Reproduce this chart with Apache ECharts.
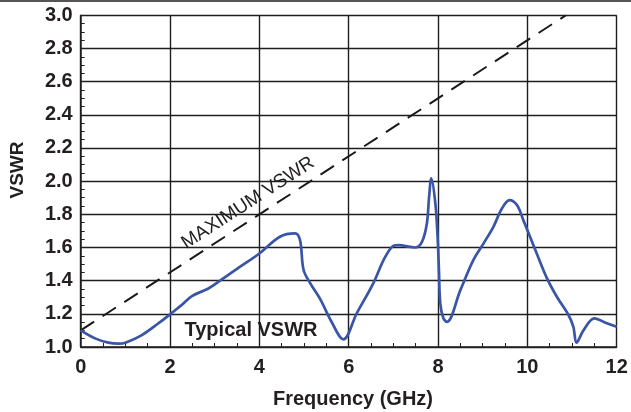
<!DOCTYPE html>
<html>
<head>
<meta charset="utf-8">
<script src="https://cdn.jsdelivr.net/npm/echarts@6/dist/echarts.min.js"></script>
<style>
html,body{margin:0;padding:0;background:#fff;}
#c{width:631px;height:412px;}
</style>
</head>
<body>
<div id="c"></div>
<script>
var freq = [0, 0.32, 0.62, 0.85, 1.0, 1.37, 1.74, 2.0, 2.26, 2.49, 2.86, 3.12, 3.57, 4.0, 4.46, 4.8, 4.91, 4.99, 5.14, 5.36, 5.6, 5.88, 6.18, 6.55, 6.78, 6.97, 7.11, 7.49, 7.64, 7.75, 7.80, 7.85, 7.94, 7.99, 8.02, 8.05, 8.12, 8.2, 8.5, 8.79, 9.02, 9.24, 9.43, 9.6, 9.77, 9.91, 10.21, 10.44, 10.66, 10.92, 11.03, 11.1, 11.26, 11.5, 11.78, 12.0];
var vswr = [1.10, 1.052, 1.026, 1.02, 1.026, 1.072, 1.143, 1.197, 1.253, 1.307, 1.353, 1.40, 1.484, 1.564, 1.665, 1.685, 1.645, 1.464, 1.384, 1.29, 1.16, 1.046, 1.203, 1.384, 1.524, 1.604, 1.614, 1.60, 1.634, 1.745, 1.905, 2.017, 1.866, 1.665, 1.464, 1.263, 1.173, 1.152, 1.343, 1.524, 1.625, 1.725, 1.835, 1.886, 1.855, 1.765, 1.564, 1.414, 1.303, 1.193, 1.122, 1.026, 1.102, 1.173, 1.143, 1.122];
var maxFreq = [0, 10.86];
var maxVswr = [1.1, 3.0];
var xTicks = ['0','2','4','6','8','10','12'];
var yTicks = ['1.0','1.2','1.4','1.6','1.8','2.0','2.2','2.4','2.6','2.8','3.0'];

var typical = freq.map(function(f, i){ return [f, vswr[i]]; });
var maxLine = maxFreq.map(function(f, i){ return [f, maxVswr[i]]; });
var FONT = '"Liberation Sans", Arial, sans-serif';
var INK = '#231f20';

var chart = echarts.init(document.getElementById('c'), null, {renderer:'canvas'});
chart.setOption({
  animation: false,
  grid: {left: 80.7, right: 14.3, top: 15.3, bottom: 65, containLabel: false},
  xAxis: {
    type: 'value', min: 0, max: 12, interval: 2,
    axisLine: {show: true, lineStyle: {color: INK, width: 1.5}},
    axisTick: {show: true, inside: true, length: 4, lineStyle: {color: INK}},
    minorTick: {show: true, splitNumber: 4, length: 4, lineStyle: {color: INK, width: 1}},
    splitLine: {show: true, lineStyle: {color: '#1e1e1e', width: 1.4}},
    axisLabel: {
      margin: 10, color: INK, fontSize: 20, fontWeight: 'bold', fontFamily: FONT,
      formatter: function(v){ return xTicks[Math.round(v/2)]; }
    }
  },
  yAxis: {
    type: 'value', min: 1.0, max: 3.0, interval: 0.2,
    axisLine: {show: true, lineStyle: {color: INK, width: 1.5}},
    axisTick: {show: true, inside: true, length: 4, lineStyle: {color: INK}},
    minorTick: {show: true, splitNumber: 4, length: 4, lineStyle: {color: INK, width: 1}},
    splitLine: {show: true, lineStyle: {color: '#1e1e1e', width: 1.4}},
    axisLabel: {
      margin: 8, color: INK, fontSize: 20, fontWeight: 'bold', fontFamily: FONT,
      formatter: function(v){ return yTicks[Math.round((v-1)/0.2)]; }
    }
  },
  series: [
    {
      type: 'line', data: maxLine, symbol: 'none', silent: true,
      lineStyle: {color: '#1a1a1a', width: 2, type: [16, 10]}
    },
    {
      type: 'line', data: typical, symbol: 'none', smooth: 0.35, silent: true,
      lineStyle: {color: '#3a55a6', width: 2.7}
    }
  ],
  graphic: [
    {type: 'rect', left: 0, top: 0, shape: {width: 631, height: 2}, style: {fill: '#555'}},
    {type: 'text', x: 18, y: 170, rotation: Math.PI/2, style: {text: 'VSWR', fill: INK, font: 'bold 19px ' + FONT, align: 'center', verticalAlign: 'middle'}},
    {type: 'text', x: 353, y: 399, style: {text: 'Frequency (GHz)', fill: INK, font: 'bold 20px ' + FONT, align: 'center', verticalAlign: 'middle'}},
    {type: 'text', x: 251, y: 330, style: {text: 'Typical VSWR', fill: INK, font: 'bold 20px ' + FONT, align: 'center', verticalAlign: 'middle'}},
    {type: 'text', x: 248, y: 203, rotation: 33*Math.PI/180, style: {text: 'MAXIMUM VSWR', fill: INK, font: '19px ' + FONT, align: 'center', verticalAlign: 'middle'}}
  ]
});
</script>
</body>
</html>
